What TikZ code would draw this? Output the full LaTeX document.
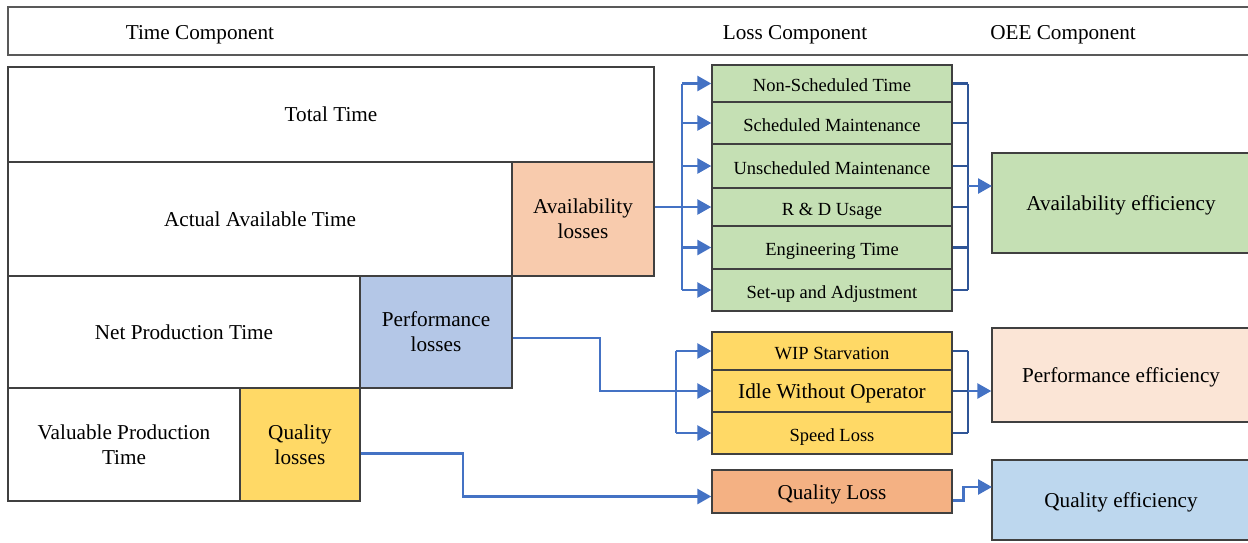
\documentclass[tikz,border=0pt]{standalone}
\usepackage{fontspec}
\setmainfont{Liberation Serif}
\usetikzlibrary{arrows.meta}
\definecolor{edge}{HTML}{404040}
\definecolor{hdrgray}{HTML}{595959}
\definecolor{arrblue}{HTML}{4472C4}
\definecolor{busblue}{HTML}{2F5597}
\definecolor{peach}{HTML}{F8CBAD}
\definecolor{lblue}{HTML}{B4C7E7}
\definecolor{gold}{HTML}{FFD966}
\definecolor{lgreen}{HTML}{C5E0B4}
\definecolor{pale}{HTML}{FBE5D6}
\definecolor{sky}{HTML}{BDD7EE}
\definecolor{salmon}{HTML}{F4B183}
\begin{document}
\begin{tikzpicture}[x=0.5pt,y=-0.5pt,
  blk/.style={draw=edge,line width=0.7pt,align=center,font=\fontsize{10.6}{12.5}\selectfont},
  row/.style={blk,minimum width=120pt,font=\fontsize{9.25}{11}\selectfont,text height=0.82em,text depth=0pt},
  big/.style={font=\fontsize{10.6}{12.5}\selectfont,text height=0.75em,text depth=0pt},
  eff/.style={blk,minimum width=129pt,text depth=0pt},
  head/.style={font=\fontsize{10.6}{12.5}\selectfont,text depth=0pt},
  ln/.style={draw=arrblue,line width=1.35pt},
  arr/.style={ln,-{Triangle[length=7pt,width=7.5pt]}},
  bus/.style={draw=busblue,line width=1.35pt}]
\tikzstyle{every node}+=[inner sep=0pt]
\useasboundingbox (0,0) rectangle (1248,542);
\clip (0,0) rectangle (1248,542);
\node[draw=hdrgray,line width=1.1pt,minimum width=626pt,minimum height=24pt] (hdr) at (634,31) {};
\node[head] (tc) at (200,32) {Time Component};
\node[head] (lc) at (795,32) {Loss Component};
\node[head] (oc) at (1063,32) {OEE Component};
\node[blk,minimum width=323pt,minimum height=47.5pt] (tot) at (331,114.5) {Total Time};
\node[blk,minimum width=252pt,minimum height=57pt] (aat) at (260,219) {Actual Available Time};
\node[blk,fill=peach,minimum width=71pt,minimum height=57pt] (avl) at (583,219) {Availability\\losses};
\node[blk,minimum width=176pt,minimum height=56pt] (npt) at (184,332) {Net Production Time};
\node[blk,fill=lblue,minimum width=76pt,minimum height=56pt] (perf) at (436,332) {Performance\\losses};
\node[blk,minimum width=116pt,minimum height=56.5pt] (vpt) at (124,444.5) {Valuable Production\\Time};
\node[blk,fill=gold,minimum width=60pt,minimum height=56.5pt] (qlos) at (300,444.5) {Quality\\losses};
\node[row,fill=lgreen,minimum height=18.5pt] (nst) at (832,83.5) {Non-Scheduled Time};
\node[row,fill=lgreen,minimum height=21pt] (sm) at (832,123) {Scheduled Maintenance};
\node[row,fill=lgreen,minimum height=22pt] (um) at (832,166) {Unscheduled Maintenance};
\node[row,fill=lgreen,minimum height=19pt] (rd) at (832,207) {R \& D Usage};
\node[row,fill=lgreen,minimum height=21.5pt] (et) at (832,247.5) {Engineering Time};
\node[row,fill=lgreen,minimum height=21pt] (sa) at (832,290) {Set-up and Adjustment};
\node[row,fill=gold,minimum height=19pt] (wip) at (832,351) {WIP Starvation};
\node[row,big,fill=gold,minimum height=21pt] (iwo) at (832,391) {Idle Without Operator};
\node[row,fill=gold,minimum height=21pt] (spl) at (832,433) {Speed Loss};
\node[row,big,fill=salmon,minimum height=21.5pt] (qloss) at (832,491.5) {Quality Loss};
\node[eff,fill=lgreen,minimum height=50pt] (aeff) at (1121,203) {Availability efficiency};
\node[eff,fill=pale,minimum height=47pt] (peff) at (1121,375) {Performance efficiency};
\node[eff,fill=sky,minimum height=40pt] (qeff) at (1121,500) {Quality efficiency};
\coordinate (abus) at (682,0);
\coordinate (rbus) at (968,0);
\coordinate (pbus) at (676,0);
\coordinate (pbend) at (600,0);
\coordinate (qbend) at (463,0);
\coordinate (aein) at (992,186);
\coordinate (qein) at (992,487);
\coordinate (qin) at ([yshift=-2.5pt]qloss.west);
\coordinate (qout) at ([yshift=-4.5pt]qloss.east);
\draw[ln] (avl.east |- rd) -- (abus |- rd);
\draw[ln] (abus |- nst) -- (abus |- sa);
\draw[bus] (rbus |- nst) -- (rbus |- sa);
\foreach \r in {nst,sm,um,rd,et,sa} {
  \draw[arr] (abus |- \r) -- (\r.west);
  \draw[bus] (\r.east) -- (rbus |- \r);
}
\draw[arr] (rbus |- aein) -- (aein);
\draw[ln] ([yshift=-3pt]perf.east) -| (pbend |- iwo) -- (pbus |- iwo);
\draw[ln] (pbus |- wip) -- (pbus |- spl);
\draw[bus] (rbus |- wip) -- (rbus |- spl);
\foreach \r in {wip,iwo,spl} {
  \draw[arr] (pbus |- \r) -- (\r.west);
  \draw[bus] (\r.east) -- (rbus |- \r);
}
\draw[arr] (rbus |- iwo) -- (peff.west |- iwo);
\draw[arr] ([yshift=-4.5pt]qlos.east) -| (qbend |- qin) -- (qin);
\draw[arr] (qout) -- ++(11,0) |- (qein);
\end{tikzpicture}
\end{document}
